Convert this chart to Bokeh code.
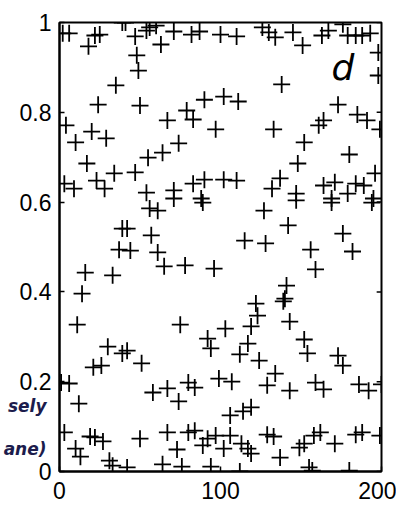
from bokeh.plotting import figure
from bokeh.models import Range1d, FixedTicker, Label, LinearAxis
from bokeh.embed import file_html
from bokeh.resources import INLINE

# ---- data (x: 0..200, y: 0..1) ----
top_x = [2, 6, 18, 22, 25, 39, 41, 47, 54, 56, 60, 63, 71, 82, 87, 100, 110, 126, 130, 134,
         145, 151, 163, 167, 176, 179, 184, 188, 193, 198, 48]
top_y = [0.976, 0.976, 0.947, 0.971, 0.973, 1.0, 1.0, 0.969, 0.982, 0.989, 0.993, 0.951, 0.980,
         0.973, 0.980, 0.973, 0.969, 0.989, 0.978, 0.967, 0.978, 0.949, 0.971, 0.982, 0.996,
         0.971, 0.971, 0.971, 0.976, 0.933, 0.927]

upper_x = [49, 35, 24, 50, 90, 79, 83, 67, 97, 4, 20, 138, 102, 111, 173, 133, 161, 164, 185,
           191, 199, 198]
upper_y = [0.893, 0.860, 0.817, 0.815, 0.828, 0.804, 0.784, 0.782, 0.762, 0.771, 0.757, 0.862,
           0.835, 0.824, 0.817, 0.762, 0.771, 0.782, 0.795, 0.782, 0.762, 0.882]

mid_x = [10, 29, 17, 55, 64, 74, 47, 34, 23, 28, 3, 9, 54, 71, 71, 83, 90, 102, 88, 89, 56, 61,
         39, 42, 57, 37, 44, 61, 152, 180, 148, 196, 110, 137, 132, 164, 171, 179, 184, 189, 147,
         147, 169, 169, 195, 194, 127, 142, 176, 115, 128, 156, 182]
mid_y = [0.733, 0.742, 0.686, 0.699, 0.710, 0.731, 0.666, 0.664, 0.648, 0.630, 0.641, 0.630,
         0.621, 0.626, 0.608, 0.641, 0.650, 0.650, 0.608, 0.599, 0.586, 0.581, 0.541, 0.541,
         0.526, 0.494, 0.492, 0.488, 0.733, 0.706, 0.686, 0.664, 0.648, 0.653, 0.630, 0.637,
         0.644, 0.619, 0.641, 0.637, 0.619, 0.604, 0.608, 0.599, 0.608, 0.599, 0.581, 0.548,
         0.530, 0.514, 0.508, 0.494, 0.490]

lower_x = [16, 33, 65, 78, 96, 14, 11, 75, 92, 94, 30, 39, 42, 159, 141, 140, 139, 122, 123, 143,
           103, 119, 117, 152, 154, 112]
lower_y = [0.443, 0.437, 0.457, 0.459, 0.452, 0.396, 0.327, 0.327, 0.296, 0.274, 0.278, 0.263,
           0.269, 0.450, 0.414, 0.385, 0.379, 0.374, 0.347, 0.334, 0.318, 0.323, 0.285, 0.294,
           0.263, 0.261]

bottom_x = [51, 21, 26, 124, 173, 176, 1, 6, 12, 58, 67, 74, 80, 84, 99, 107, 134, 129, 143, 159,
            164, 186, 192, 200, 106, 114, 119, 3, 19, 22, 27, 10, 13, 50, 67, 80, 84, 73, 89, 92,
            97, 102, 106, 113, 117, 119, 129, 133, 137, 149, 152, 158, 162, 171, 184, 188, 199,
            31, 33, 42, 64, 76, 94, 112, 155, 157, 180]
bottom_y = [0.241, 0.232, 0.236, 0.247, 0.258, 0.236, 0.198, 0.196, 0.151, 0.176, 0.185, 0.156,
            0.198, 0.187, 0.207, 0.200, 0.218, 0.192, 0.180, 0.198, 0.183, 0.194, 0.180, 0.194,
            0.125, 0.134, 0.143, 0.087, 0.078, 0.076, 0.067, 0.051, 0.033, 0.073, 0.087, 0.087,
            0.091, 0.049, 0.058, 0.073, 0.080, 0.051, 0.080, 0.062, 0.051, 0.040, 0.082, 0.078,
            0.031, 0.053, 0.062, 0.080, 0.087, 0.062, 0.082, 0.087, 0.080, 0.024, 0.013, 0.009,
            0.016, 0.011, 0.011, 0.0, 0.009, 0.002, 0.002]

x_ticks = [0, 100, 200]
y_ticks = [0, 0.2, 0.4, 0.6, 0.8, 1]
y_tick_labels = ["0", "0.2", "0.4", "0.6", "0.8", "1"]

# handwritten margin notes (left of the axis) and panel letter
note_y = [0.145, 0.049]
note_text = ["sely", "ane)"]
panel_letter = "d"

xs = top_x + upper_x + mid_x + lower_x + bottom_x
ys = top_y + upper_y + mid_y + lower_y + bottom_y

FONT = "Liberation Sans"
X_MAX = x_ticks[-1]

p = figure(width=396, height=508, output_backend="svg", toolbar_location=None,
           x_range=Range1d(0, X_MAX), y_range=Range1d(0, 1),
           min_border_left=55, min_border_right=15, min_border_top=22, min_border_bottom=37)
p.background_fill_color = "white"
p.border_fill_color = "white"
p.grid.visible = False
p.outline_line_color = "black"
p.outline_line_width = 2

for ax in (p.xaxis[0], p.yaxis[0]):
    ax.axis_line_color = "black"
    ax.axis_line_width = 2
    ax.major_tick_in = 5
    ax.major_tick_out = 0
    ax.major_tick_line_color = "black"
    ax.major_tick_line_width = 1.5
    ax.minor_tick_line_color = None
    ax.major_label_text_font = FONT
    ax.major_label_text_font_size = "23px"
    ax.major_label_text_color = "black"

p.xaxis.ticker = FixedTicker(ticks=x_ticks)
p.xaxis.major_label_standoff = 10
p.yaxis.ticker = FixedTicker(ticks=y_ticks)
p.yaxis.major_label_overrides = {t: s for t, s in zip(y_ticks, y_tick_labels)}
p.yaxis.major_label_standoff = 8

# second, label-only axis carrying the handwritten notes in the left margin
notes_axis = LinearAxis(ticker=FixedTicker(ticks=note_y),
                        major_label_overrides={t: s for t, s in zip(note_y, note_text)},
                        axis_line_color=None, major_tick_line_color=None,
                        minor_tick_line_color=None, major_tick_in=0, major_tick_out=0,
                        major_label_standoff=-30, major_label_text_font="DejaVu Sans",
                        major_label_text_font_style="bold italic",
                        major_label_text_font_size="17px", major_label_text_color="#1c1c4c")
p.add_layout(notes_axis, "left")

# inward ticks on the right-hand frame edge
p.segment(x0=[X_MAX] * len(y_ticks), y0=y_ticks, x1=[X_MAX - 3] * len(y_ticks), y1=y_ticks,
          line_color="black", line_width=1.5)

p.scatter(xs, ys, marker="cross", size=17, line_color="black", line_width=1.8)

p.add_layout(Label(x=176, y=0.9, text=panel_letter, text_font="DejaVu Sans",
                   text_font_style="italic", text_font_size="36px", text_align="center",
                   text_baseline="middle", text_color="black"))

open("out.html", "w").write(file_html(p, INLINE))
